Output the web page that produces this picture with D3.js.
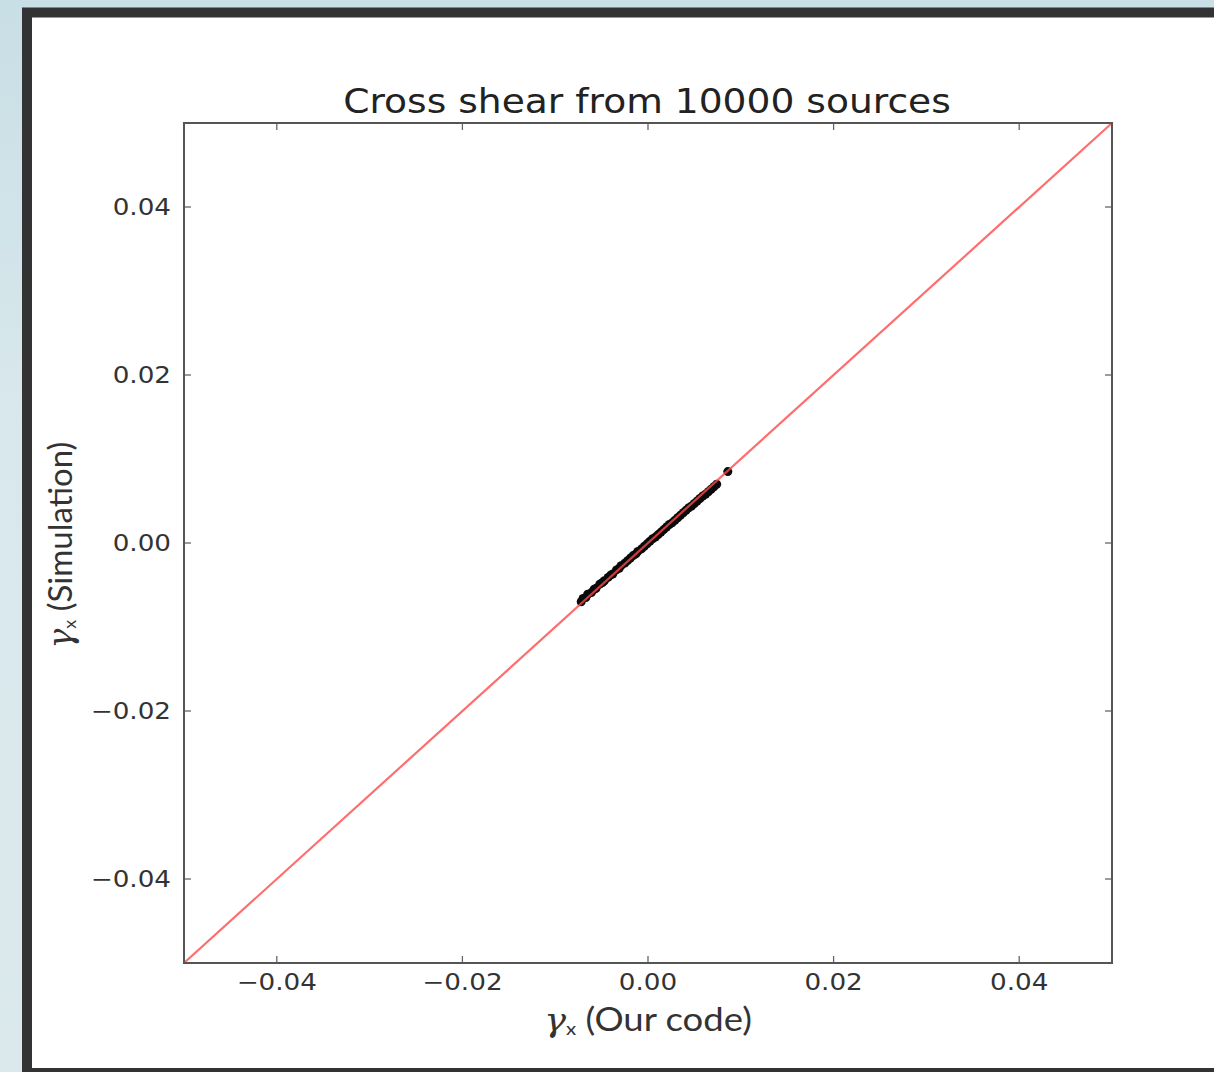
<!DOCTYPE html>
<html>
<head>
<meta charset="utf-8">
<script src="https://cdn.jsdelivr.net/npm/d3@7.9.0/dist/d3.min.js"></script>
<style>
  html, body { margin: 0; padding: 0; }
  body {
    width: 1214px; height: 1072px; overflow: hidden;
    background: linear-gradient(180deg, #c8dfe5 0%, #d9e8ec 40%, #dbe9ed 100%);
  }
  svg { display: block; }
</style>
</head>
<body>
<svg id="chart" width="1214" height="1072"></svg>
<script>
// values (gamma_x, our code vs simulation)
const ourCode = [-0.0072, -0.0070, -0.0067, -0.0065, -0.0061, -0.0058, -0.0056, -0.0052, -0.0049, -0.0047,
  -0.0043, -0.0040, -0.0038, -0.0034, -0.0031, -0.0029, -0.0025, -0.0022, -0.0019, -0.0016,
  -0.0013, -0.0011, -0.0007, -0.0004, -0.0001, 0.0002, 0.0005, 0.0008, 0.0011, 0.0014,
  0.0017, 0.0020, 0.0023, 0.0026, 0.0029, 0.0032, 0.0035, 0.0038, 0.0041, 0.0044,
  0.0047, 0.0050, 0.0053, 0.0056, 0.0059, 0.0062, 0.0065, 0.0068, 0.0071, 0.0074, 0.0086];
const simulation = [-0.0070, -0.0066, -0.0065, -0.0061, -0.0059, -0.0055, -0.0054, -0.0049, -0.0047, -0.0045,
  -0.0041, -0.0038, -0.0037, -0.0032, -0.0030, -0.0027, -0.0024, -0.0021, -0.0018, -0.0015,
  -0.0013, -0.0010, -0.0007, -0.0004, -0.0001, 0.0002, 0.0005, 0.0007, 0.0010, 0.0013,
  0.0016, 0.0019, 0.0022, 0.0024, 0.0027, 0.0030, 0.0033, 0.0036, 0.0039, 0.0042,
  0.0044, 0.0047, 0.0050, 0.0053, 0.0056, 0.0058, 0.0061, 0.0064, 0.0067, 0.0070, 0.0085];
const xTicks = [-0.04, -0.02, 0.00, 0.02, 0.04];
const yTicks = [-0.04, -0.02, 0.00, 0.02, 0.04];
const axisRange = [-0.05, 0.05];
const title = "Cross shear from 10000 sources";

let svg = d3.select("#chart");

// the dark frame of the screenshot
svg.append("rect")
  .attr("x", 27).attr("y", 12.5)
  .attr("width", 1240).attr("height", 1060.5)
  .attr("fill", "#fff")
  .attr("stroke", "#333").attr("stroke-width", 10);

const pLeft = 184, pRight = 1112, pTop = 123, pBottom = 963;
const sx = 1.14; // the screenshot is a bit wider than tall

let x = d3.scaleLinear().domain(axisRange).range([pLeft, pRight]);
let y = d3.scaleLinear().domain(axisRange).range([pBottom, pTop]);

let fmt = d => d3.format(".2f")(d).replace("-", "\u2212");

// ticks, inward on all four sides (matplotlib classic)
let tickLen = 7;
let ticks = svg.append("g").attr("stroke", "#666").attr("stroke-width", 1.3);
xTicks.forEach(t => {
  ticks.append("line").attr("x1", x(t)).attr("x2", x(t)).attr("y1", pBottom).attr("y2", pBottom - tickLen);
  ticks.append("line").attr("x1", x(t)).attr("x2", x(t)).attr("y1", pTop).attr("y2", pTop + tickLen);
});
yTicks.forEach(t => {
  ticks.append("line").attr("y1", y(t)).attr("y2", y(t)).attr("x1", pLeft).attr("x2", pLeft + tickLen);
  ticks.append("line").attr("y1", y(t)).attr("y2", y(t)).attr("x1", pRight).attr("x2", pRight - tickLen);
});

// scatter points
svg.append("g")
  .selectAll("circle")
  .data(ourCode.map((d, i) => [d, simulation[i]]))
  .join("circle")
  .attr("cx", d => x(d[0]))
  .attr("cy", d => y(d[1]))
  .attr("r", 4.5)
  .attr("fill", "#0a0a0a");

// one-to-one line
svg.append("line")
  .attr("x1", x(axisRange[0])).attr("y1", y(axisRange[0]))
  .attr("x2", x(axisRange[1])).attr("y2", y(axisRange[1]))
  .attr("stroke", "#ff4a4a").attr("stroke-width", 2.2).attr("opacity", 0.8);

// axes box
svg.append("rect")
  .attr("x", pLeft).attr("y", pTop)
  .attr("width", pRight - pLeft).attr("height", pBottom - pTop)
  .attr("fill", "none").attr("stroke", "#555").attr("stroke-width", 2);

// tick labels
let tickFont = "'DejaVu Sans', sans-serif";
svg.append("g").selectAll("text").data(xTicks).join("text")
  .attr("transform", d => `translate(${x(d)},${pBottom + 27}) scale(${sx},1)`)
  .attr("text-anchor", "middle")
  .attr("font-family", tickFont).attr("font-size", 23)
  .attr("fill", "#333")
  .text(fmt);
svg.append("g").selectAll("text").data(yTicks).join("text")
  .attr("transform", d => `translate(${pLeft - 13},${y(d) + 8}) scale(${sx},1)`)
  .attr("text-anchor", "end")
  .attr("font-family", tickFont).attr("font-size", 23)
  .attr("fill", "#333")
  .text(fmt);

// title
svg.append("text")
  .attr("transform", `translate(${(pLeft + pRight) / 2 - 1},113) scale(${sx},1)`)
  .attr("text-anchor", "middle")
  .attr("font-family", tickFont).attr("font-size", 33)
  .attr("fill", "#222")
  .text(title);

// axis labels
let labFont = "Lato, 'Open Sans', sans-serif";
let xl = svg.append("text")
  .attr("transform", `translate(648,1031) scale(${sx},1)`)
  .attr("text-anchor", "middle")
  .attr("font-family", labFont).attr("font-size", 32)
  .attr("fill", "#333");
xl.append("tspan").attr("font-style", "italic").attr("font-family", "'DejaVu Serif', serif").text("\u03b3");
xl.append("tspan").attr("font-size", 18).attr("dy", 4).text("x");
xl.append("tspan").attr("dy", -4).text(" (Our code)");

let yl = svg.append("text")
  .attr("transform", "translate(72,545) rotate(-90)")
  .attr("text-anchor", "middle")
  .attr("font-family", labFont).attr("font-size", 33)
  .attr("fill", "#333");
yl.append("tspan").attr("font-style", "italic").attr("font-family", "'DejaVu Serif', serif").text("\u03b3");
yl.append("tspan").attr("font-size", 18).attr("dy", 4).text("x");
yl.append("tspan").attr("dy", -4).text(" (Simulation)");
</script>
</body>
</html>
